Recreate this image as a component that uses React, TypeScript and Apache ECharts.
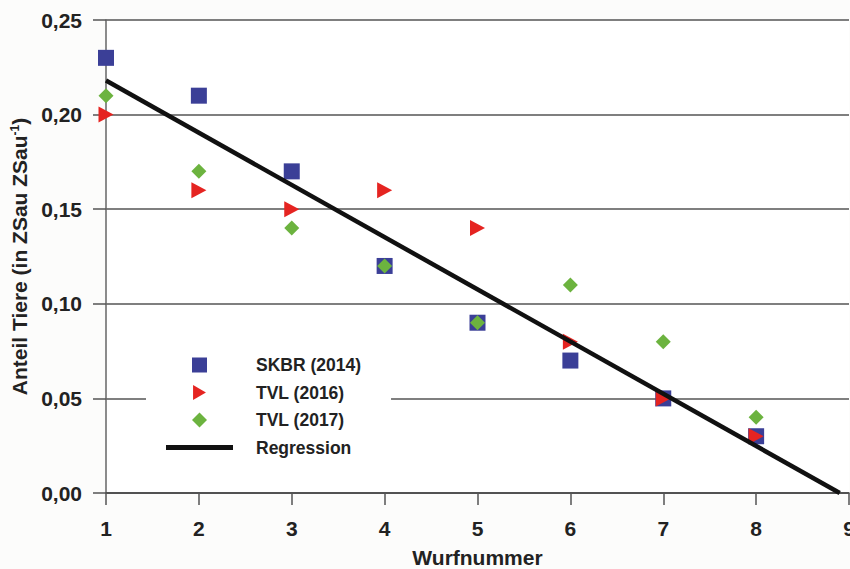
import React, { useEffect, useRef } from "react";
import * as echarts from "echarts";

const wurf = [1, 2, 3, 4, 5, 6, 7, 8];
const skbr2014 = [0.23, 0.21, 0.17, 0.12, 0.09, 0.07, 0.05, 0.03];
const tvl2016 = [0.2, 0.16, 0.15, 0.16, 0.14, 0.08, 0.05, 0.03];
const tvl2017 = [0.21, 0.17, 0.14, 0.12, 0.09, 0.11, 0.08, 0.04];
const regressionX = [1, 8.9];
const regressionY = [0.218, 0];
const seriesNames = ["SKBR (2014)", "TVL (2016)", "TVL (2017)", "Regression"];

const FONT = "'Liberation Sans', Arial, sans-serif";
const TRI = "path://M0,0L12,7L0,14Z";
const SQ = "path://M0,0H10V10H0Z";
const DIA = "path://M5,0L10,5L5,10L0,5Z";
const BAR = "path://M0,0H67V5H0Z";

export default function App() {
  const ref = useRef<HTMLDivElement>(null);
  useEffect(() => {
    if (!ref.current) return;
    const chart = echarts.init(ref.current, undefined, { renderer: "svg" });
    const pts = (vals: number[]) => wurf.map((x, i) => [x, vals[i]]);
    chart.setOption({
      animation: false,
      backgroundColor: "#fcfcfb",
      textStyle: { fontFamily: FONT },
      grid: {
        left: 106,
        right: 1,
        top: 20,
        bottom: 76,
        outerBoundsMode: "none",
        containLabel: false,
        show: true,
        backgroundColor: "#ffffff",
        borderWidth: 0,
      },
      legend: {
        orient: "vertical",
        left: 146,
        top: 346,
        padding: [10, 30, 10, 20],
        backgroundColor: "#ffffff",
        itemWidth: 67,
        itemHeight: 15,
        itemGap: 9.5,
        symbolKeepAspect: true,
        data: [
          { name: seriesNames[0], icon: SQ },
          { name: seriesNames[1], icon: TRI },
          { name: seriesNames[2], icon: DIA },
          { name: seriesNames[3], icon: BAR },
        ],
        textStyle: {
          fontFamily: FONT,
          fontWeight: "bold",
          fontSize: 17.5,
          color: "#222",
          padding: [0, 0, 0, 18],
        },
      },
      xAxis: {
        type: "value",
        min: 1,
        max: 9,
        interval: 1,
        name: "Wurfnummer",
        nameLocation: "middle",
        nameGap: 54,
        nameTextStyle: { fontFamily: FONT, fontWeight: "bold", fontSize: 21, color: "#222" },
        axisLine: { show: true, onZero: false, lineStyle: { color: "#444", width: 1.5 } },
        axisTick: { show: true, inside: false, length: 12, lineStyle: { color: "#555", width: 1.5 } },
        axisLabel: {
          margin: 25,
          fontFamily: FONT,
          fontWeight: "bold",
          fontSize: 21,
          color: "#222",
        },
        splitLine: { show: false },
      },
      yAxis: {
        type: "value",
        min: 0,
        max: 0.25,
        interval: 0.05,
        name: "Anteil Tiere (in ZSau ZSau{sup|-1})",
        nameLocation: "middle",
        nameGap: 72,
        nameTextStyle: {
          fontFamily: FONT,
          fontWeight: "bold",
          fontSize: 21,
          color: "#222",
          rich: {
            sup: {
              fontFamily: FONT,
              fontWeight: "bold",
              fontSize: 12,
              color: "#222",
              verticalAlign: "top",
              padding: [0, 0, 10, 0],
            },
          },
        },
        axisLine: { show: true, lineStyle: { color: "#666", width: 1.5 } },
        axisTick: { show: true, inside: false, length: 13, lineStyle: { color: "#555", width: 1.5 } },
        axisLabel: {
          margin: 24,
          fontFamily: FONT,
          fontWeight: "bold",
          fontSize: 21,
          color: "#222",
          formatter: (v: number) => v.toFixed(2).replace(".", ","),
        },
        splitLine: { show: true, lineStyle: { color: "#555", width: 1.5 } },
      },
      series: [
        {
          name: seriesNames[0],
          type: "scatter",
          symbol: "rect",
          symbolSize: 16,
          itemStyle: { color: "#3b3f97", opacity: 1 },
          data: pts(skbr2014),
          z: 2,
        },
        {
          name: seriesNames[1],
          type: "scatter",
          symbol: TRI,
          symbolSize: [15, 16],
          itemStyle: { color: "#e52421", opacity: 1 },
          data: pts(tvl2016),
          z: 3,
        },
        {
          name: seriesNames[2],
          type: "scatter",
          symbol: "diamond",
          symbolSize: [15, 15],
          itemStyle: { color: "#6cb33f", opacity: 1 },
          data: pts(tvl2017),
          z: 4,
        },
        {
          name: seriesNames[3],
          type: "line",
          symbol: "none",
          lineStyle: { color: "#111", width: 4.5 },
          itemStyle: { color: "#111" },
          data: regressionX.map((x, i) => [x, regressionY[i]]),
          z: 5,
        },
      ],
    });
    return () => chart.dispose();
  }, []);
  return (
    <div
      ref={ref}
      style={{ position: "fixed", left: 0, top: 0, width: 850, height: 569 }}
    />
  );
}
